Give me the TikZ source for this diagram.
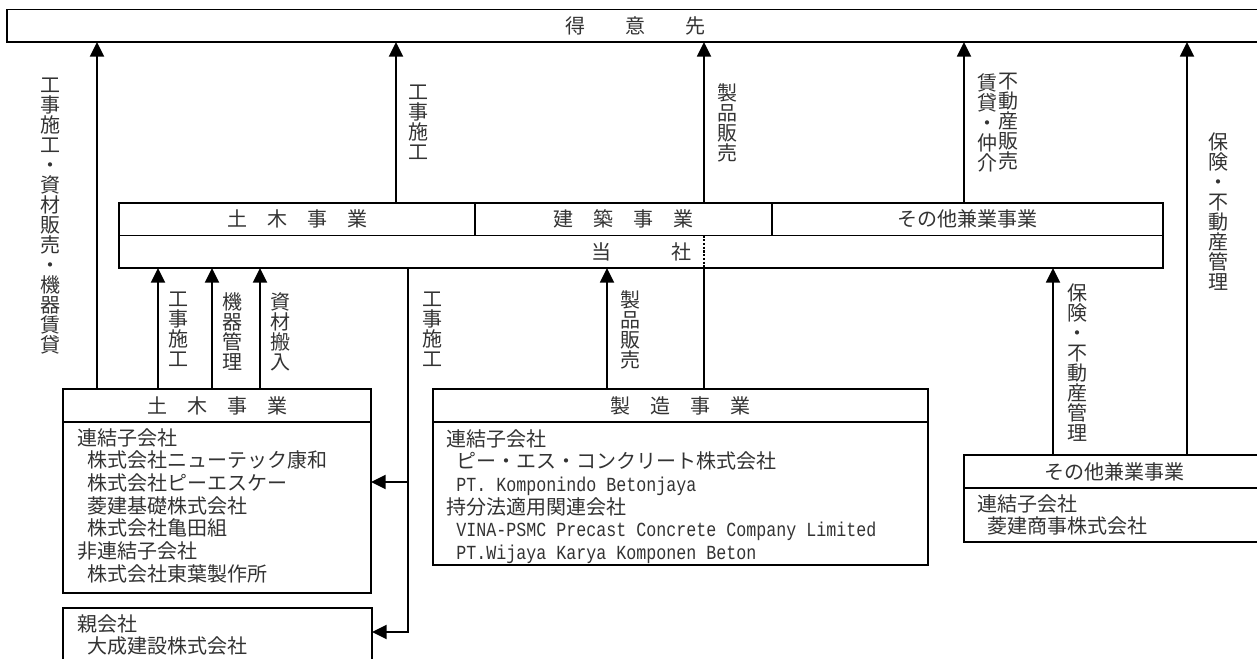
\documentclass[tikz,border=0pt]{standalone}
\usepackage{fontspec}
\newfontfamily\jp{Noto Sans CJK JP}
\newfontfamily\monox[FakeStretch=0.8333]{Liberation Mono}
\usetikzlibrary{arrows.meta}
\newcommand{\jpf}{\jp\fontsize{15pt}{17pt}\selectfont\lineskiplimit=-30pt}
\newcommand{\vjp}{\jp\fontsize{15pt}{15pt}\selectfont\lineskiplimit=-30pt}
\newcommand{\indx}{\hspace*{7.5pt}}
\newcommand{\lat}[1]{{\monox\fontsize{15pt}{17pt}\selectfont #1}}
\begin{document}
\begin{tikzpicture}[x=0.75pt,y=-0.75pt,
  box/.style={draw, line width=1.4pt, rectangle, inner sep=0pt, outer sep=0pt,
    anchor=north west, font=\jpf, text=black!80},
  sized/.style 2 args={minimum width={#1*0.75pt}, minimum height={#2*0.75pt}},
  txt/.style={anchor=north west, inner sep=0pt, align=left, font=\jpf, text=black!80},
  vl/.style={anchor=north, inner sep=0pt, align=center, font=\vjp, text=black!80},
  ln/.style={line width=1.4pt},
  arr/.style={line width=1.4pt, -{Triangle[length=11pt,width=10.5pt]}}]
\fill[white] (0,0) rectangle (1257,659);
\useasboundingbox (0,0) rectangle (1257,659);

% boxes
\node[box, sized={1257}{32.5}] (tokui) at (7,9.5) {得　　意　　先};
\node[box, sized={356}{32.5}] (civil) at (119,203) {土　木　事　業};
\node[box, sized={297}{32.5}] (build) at (475,203) {建　築　事　業};
\node[box, sized={391}{32.5}] (other) at (772,203) {その他兼業事業};
\node[box, sized={1044}{32.5}] (tosha) at (119,235.5) {当　　　社};

\node[box, sized={308}{33}] (dhead) at (63,389) {土　木　事　業};
\node[box, sized={308}{171}] (dbody) at (63,422) {};
\node[box, sized={495}{33}] (shead) at (433,389) {製　造　事　業};
\node[box, sized={495}{143}] (sbody) at (433,422) {};
\node[box, sized={300}{33}] (ohead) at (964,455) {その他兼業事業};
\node[box, sized={300}{54}] (obody) at (964,488) {};
\node[box, sized={309}{70}] (oya) at (63,608) {};

% box texts
\node[txt] (dtext) at (77,428) {連結子会社\\\indx 株式会社ニューテック康和\\\indx 株式会社ピーエスケー\\\indx 菱建基礎株式会社\\\indx 株式会社亀田組\\非連結子会社\\\indx 株式会社東葉製作所};
\node[txt] (stext) at (446,429) {連結子会社\\\indx ピー・エス・コンクリート株式会社\\\indx\lat{PT. Komponindo Betonjaya}\\持分法適用関連会社\\\indx\lat{VINA-PSMC Precast Concrete Company Limited}\\\indx\lat{PT.Wijaya Karya Komponen Beton}};
\node[txt] (otext) at (977,494) {連結子会社\\\indx 菱建商事株式会社};
\node[txt] (oyatext) at (77,614) {親会社\\\indx 大成建設株式会社};

% x positions
\coordinate (c97) at (97,0);
\coordinate (c158) at (158,0);
\coordinate (c212) at (212,0);
\coordinate (c260) at (260,0);
\coordinate (c396) at (396,0);
\coordinate (c408) at (408,0);
\coordinate (c607) at (607,0);
\coordinate (c704) at (704,0);
\coordinate (c964) at (964,0);
\coordinate (c1053) at (1053,0);
\coordinate (c1187) at (1187,0);
\coordinate (j1) at (408,482);
\coordinate (j2) at (408,632);

% connectors to customers
\draw[arr] (dhead.north -| c97) -- (tokui.south -| c97);
\draw[arr] (civil.north -| c396) -- (tokui.south -| c396);
\draw[arr] (build.north -| c704) -- (tokui.south -| c704);
\draw[arr] (other.north -| c964) -- (tokui.south -| c964);
\draw[arr] (ohead.north -| c1187) -- (tokui.south -| c1187);

% connectors to the company
\draw[arr] (dhead.north -| c158) -- (tosha.south -| c158);
\draw[arr] (dhead.north -| c212) -- (tosha.south -| c212);
\draw[arr] (dhead.north -| c260) -- (tosha.south -| c260);
\draw[arr] (shead.north -| c607) -- (tosha.south -| c607);
\draw[ln] (shead.north -| c704) -- (tosha.south -| c704);
\draw[line width=1.4pt, dash pattern=on 1.6pt off 1.2pt] (tosha.north -| c704) -- (tosha.south -| c704);
\draw[arr] (ohead.north -| c1053) -- (tosha.south -| c1053);

% from the company down
\draw[arr] (tosha.south -| c408) -- (j2) -- (j2 -| oya.east);
\draw[arr] (j1) -- (j1 -| dbody.east);

% labels
\node[vl] (l1) at (50,78) {工\\事\\施\\工\\・\\資\\材\\販\\売\\・\\機\\器\\賃\\貸};
\node[vl] (l2) at (418,85) {工\\事\\施\\工};
\node[vl] (l3) at (727,83) {製\\品\\販\\売};
\node[vl] (l4a) at (1008,73) {不\\動\\産\\販\\売};
\node[vl] (l4b) at (987,73) {賃\\貸\\・\\仲\\介};
\node[vl] (l5) at (1218,132) {保\\険\\・\\不\\動\\産\\管\\理};
\node[vl] (l6) at (178,292) {工\\事\\施\\工};
\node[vl] (l7) at (232,292) {機\\器\\管\\理};
\node[vl] (l8) at (280,292) {資\\材\\搬\\入};
\node[vl] (l9) at (432,292) {工\\事\\施\\工};
\node[vl] (l10) at (630,290) {製\\品\\販\\売};
\node[vl] (l11) at (1077,283) {保\\険\\・\\不\\動\\産\\管\\理};
\end{tikzpicture}
\end{document}
